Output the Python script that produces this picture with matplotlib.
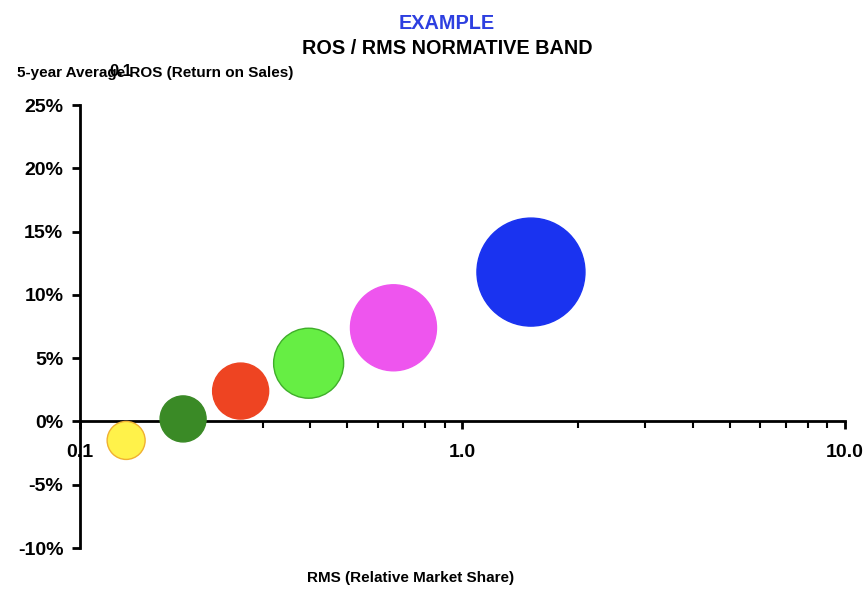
import numpy as np
import matplotlib.pyplot as plt
from matplotlib.ticker import FixedLocator, FixedFormatter, LogLocator, NullFormatter

plt.rcParams['font.family'] = ['Liberation Sans', 'DejaVu Sans']
plt.rcParams['font.weight'] = 'bold'

# bubble data: RMS (relative market share), ROS (%), bubble radius in px
rms = [0.132, 0.186, 0.263, 0.396, 0.66, 1.51]
ros = [-1.5, 0.2, 2.4, 4.6, 7.4, 11.8]
radius = [19, 23, 28, 35, 43, 54]
colors = ['#FFF24A', '#3A8A26', '#EE4422', '#66EE44', '#EE55EE', '#1A33F0']
edges = ['#F0B030', '#3A8A26', '#EE4422', '#3FAE2A', '#EE55EE', '#1A33F0']

y_ticks = [-10, -5, 0, 5, 10, 15, 20, 25]
y_labels = ['-10%', '-5%', '0%', '5%', '10%', '15%', '20%', '25%']
x_ticks = [0.1, 1.0, 10.0]
x_labels = ['0.1', '1.0', '10.0']

fig = plt.figure(figsize=(8.64, 5.96), dpi=100)
ax = fig.add_axes([0.0926, 0.0805, 0.8854, 0.7433])

sizes = [(2 * r * 0.72) ** 2 for r in radius]
ax.scatter(rms, ros, s=sizes, c=colors, edgecolors=edges, linewidths=1.0,
           zorder=3, clip_on=False)

ax.set_xscale('log')
ax.set_xlim(0.1, 10.0)
ax.set_ylim(-10, 25)

ax.spines['top'].set_visible(False)
ax.spines['right'].set_visible(False)
ax.spines['bottom'].set_position(('data', 0))
ax.spines['left'].set_linewidth(2)
ax.spines['bottom'].set_linewidth(2)

ax.xaxis.set_major_locator(FixedLocator(x_ticks))
ax.xaxis.set_major_formatter(FixedFormatter(x_labels))
ax.xaxis.set_minor_locator(LogLocator(base=10, subs=np.arange(2, 10)))
ax.xaxis.set_minor_formatter(NullFormatter())
ax.tick_params(axis='x', which='major', direction='out', length=6, width=2,
               pad=10, labelsize=14)
ax.tick_params(axis='x', which='minor', direction='out', length=5, width=1.5)

ax.set_yticks(y_ticks)
ax.set_yticklabels(y_labels)
ax.tick_params(axis='y', direction='out', length=6, width=2, pad=6, labelsize=14)

fig.text(0.5175, 0.96, 'EXAMPLE', color='#2D3FE0', fontsize=14.3, fontweight='bold',
         ha='center', va='center')
fig.text(0.5175, 0.918, 'ROS / RMS NORMATIVE BAND', color='black', fontsize=14.3,
         fontweight='bold', ha='center', va='center')
fig.text(0.02, 0.877, '5-year Average ROS (Return on Sales)', fontsize=11,
         fontweight='bold', ha='left', va='center')
fig.text(0.1395, 0.88, '0.1', fontsize=12, fontweight='bold', ha='center', va='center')
fig.text(0.475, 0.03, 'RMS (Relative Market Share)', fontsize=11,
         fontweight='bold', ha='center', va='center')

fig.savefig('out.png', dpi=100)
